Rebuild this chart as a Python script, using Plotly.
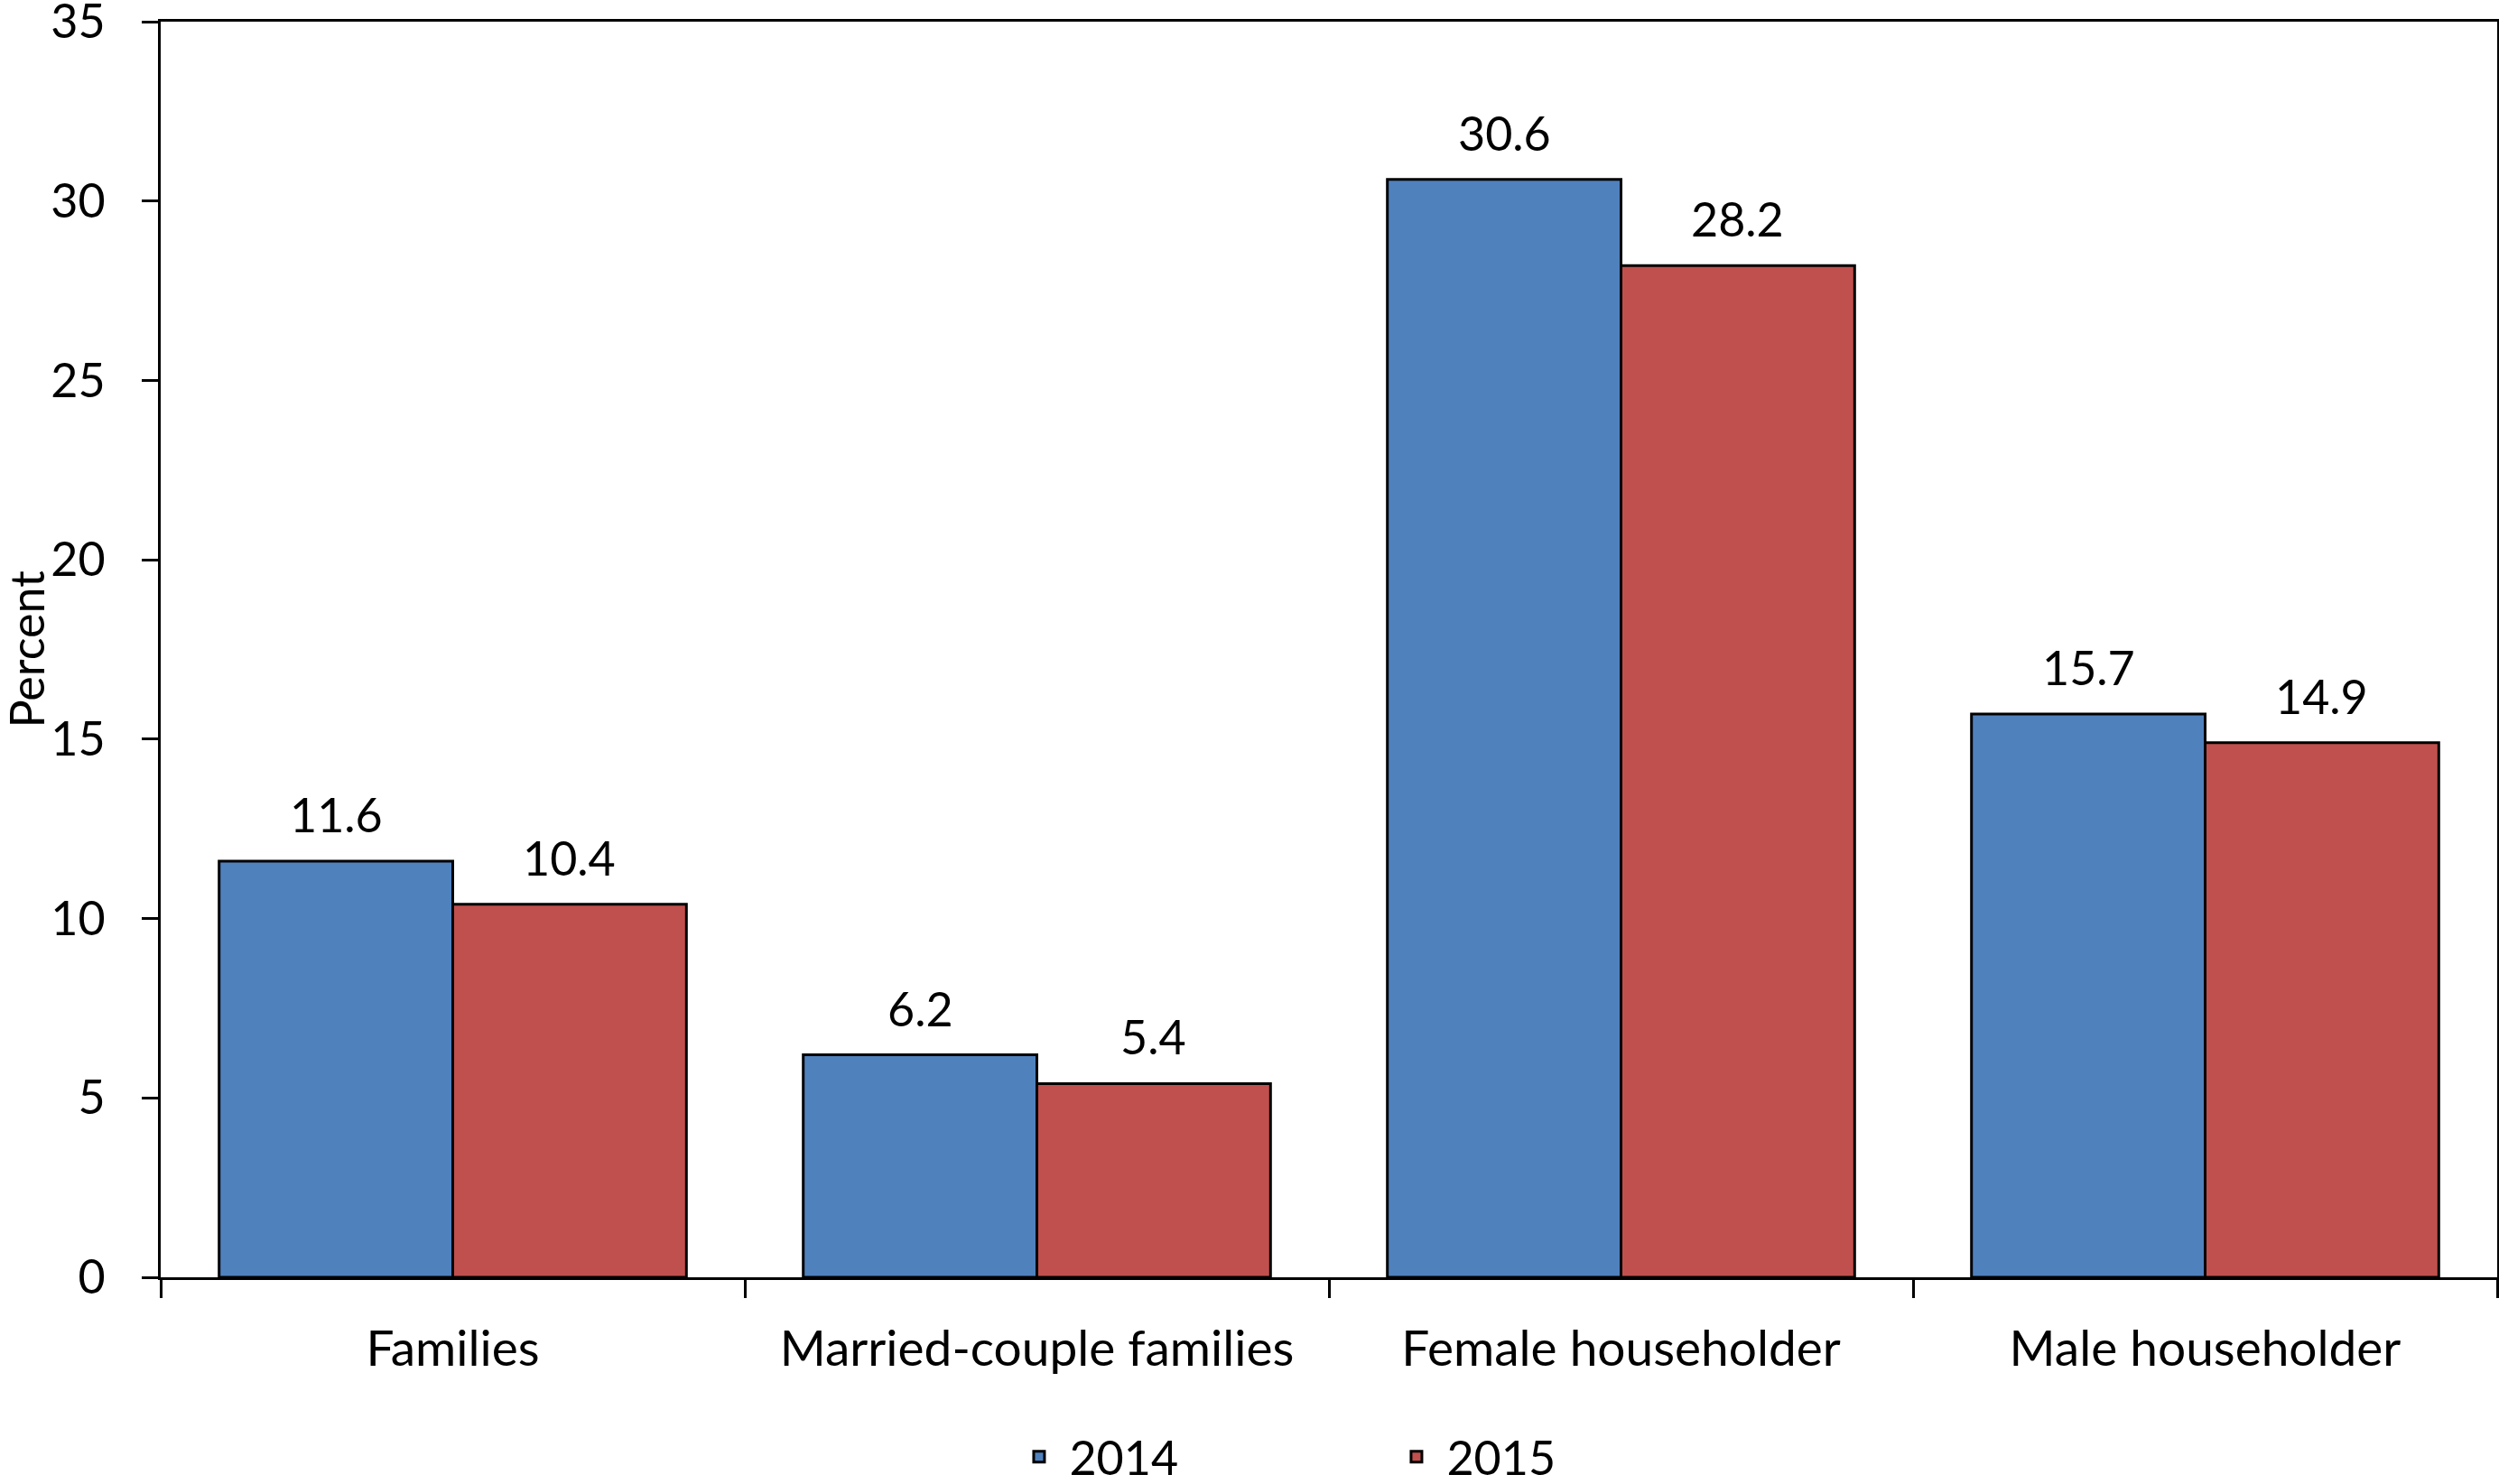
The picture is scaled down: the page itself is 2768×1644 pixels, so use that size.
import plotly.graph_objects as go

categories = ["Families", "Married-couple families", "Female householder", "Male householder"]
series_names = ["2014", "2015"]
values_2014 = [11.6, 6.2, 30.6, 15.7]
values_2015 = [10.4, 5.4, 28.2, 14.9]
y_ticks = [0, 5, 10, 15, 20, 25, 30, 35]
y_title = "Percent"

colors = ["#4F81BD", "#C0504D"]
FONT = "Lato"
FS = 52
FS_CAT = 55

fig = go.Figure()
for name, vals, col in zip(series_names, [values_2014, values_2015], colors):
    fig.add_trace(go.Bar(
        name=name, x=categories, y=vals,
        marker=dict(color=col, line=dict(color="black", width=3)),
    ))

# value labels above bars (bars sit at category index -/+ 0.2 with bargap 0.2)
offsets = [-0.2, 0.2]
for vals, off in zip([values_2014, values_2015], offsets):
    for i, v in enumerate(vals):
        fig.add_annotation(
            x=i + off, y=v, xref="x", yref="y",
            text=f"{v:.1f}", showarrow=False,
            yanchor="bottom", yshift=19,
            font=dict(family=FONT, size=FS, color="black"),
        )

# y-axis title
fig.add_annotation(
    x=0, y=0.5, xref="paper", yref="paper",
    text=y_title, textangle=-90, showarrow=False,
    xanchor="center", yanchor="middle", xshift=-150,
    font=dict(family=FONT, size=52, color="black"),
)

fig.update_layout(
    width=2768, height=1644,
    margin=dict(l=178, r=2, t=24, b=229, autoexpand=False),
    paper_bgcolor="white", plot_bgcolor="white",
    barmode="group", bargap=0.2, bargroupgap=0,
    font=dict(family=FONT, size=FS, color="black"),
    showlegend=True,
    legend=dict(
        orientation="h", x=0.363, xanchor="left", y=-0.143, yanchor="middle",
        font=dict(family=FONT, size=FS, color="black"),
        entrywidth=346, entrywidthmode="pixels",
        itemwidth=57,
        traceorder="normal",
    ),
)

fig.update_xaxes(
    type="category",
    showline=True, linecolor="black", linewidth=3, mirror=True,
    ticks="outside", ticklen=20, tickwidth=3, tickcolor="black",
    tickson="boundaries",
    ticklabelstandoff=29,
    showgrid=False, zeroline=False,
    tickfont=dict(family=FONT, size=FS_CAT, color="black"),
)
fig.update_yaxes(
    range=[0, 35], tickvals=y_ticks, ticktext=[str(t) for t in y_ticks],
    showline=True, linecolor="black", linewidth=3, mirror=True,
    ticks="outside", ticklen=18, tickwidth=3, tickcolor="black",
    ticklabelstandoff=30, ticklabeloverflow="allow",
    showgrid=False, zeroline=False,
    tickfont=dict(family=FONT, size=FS, color="black"),
)

fig.write_html(
    "out.html",
    config={"displayModeBar": False},
    post_script="document.body.style.margin='0';document.documentElement.style.overflow='hidden';",
)
